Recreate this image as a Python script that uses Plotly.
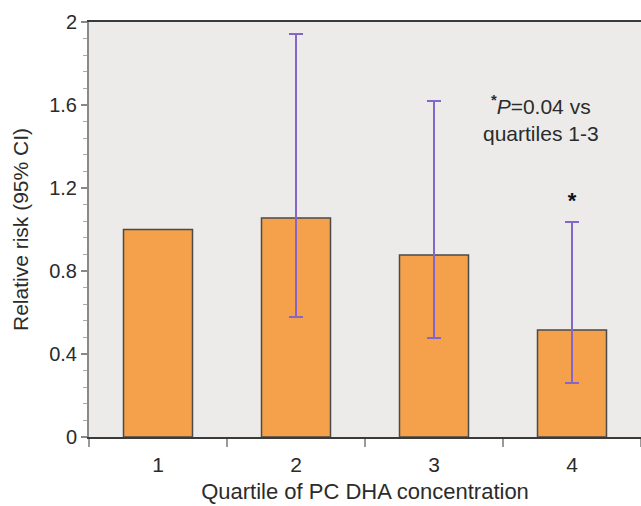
import plotly.graph_objects as go

quartiles = [1, 2, 3, 4]
relative_risk = [1.0, 1.055, 0.877, 0.516]
ci_quartiles = [2, 3, 4]
ci_rr = [1.055, 0.877, 0.516]
ci_upper = [1.942, 1.619, 1.036]
ci_lower = [0.578, 0.477, 0.26]
star_x = [4]
star_y = [1.13]
y_ticks = [0, 0.4, 0.8, 1.2, 1.6, 2]
y_tick_labels = ["0", "0.4", "0.8", "1.2", "1.6", "2"]

font_family = "Liberation Sans, Arial, sans-serif"
text_col = "#2b2b2b"

fig = go.Figure()
fig.add_trace(go.Bar(
    x=quartiles, y=relative_risk, width=0.5,
    marker=dict(color="#f5a14b", line=dict(color="#4a4a4a", width=1.5)),
    showlegend=False, hoverinfo="skip",
))
fig.add_trace(go.Scatter(
    x=ci_quartiles, y=ci_rr, mode="markers",
    marker=dict(size=1, color="rgba(0,0,0,0)"),
    error_y=dict(type="data", symmetric=False,
                 array=[u - v for u, v in zip(ci_upper, ci_rr)],
                 arrayminus=[v - l for l, v in zip(ci_lower, ci_rr)],
                 color="#8266c8", thickness=2, width=7),
    showlegend=False, hoverinfo="skip",
))
fig.add_trace(go.Scatter(
    x=star_x, y=star_y, mode="text", text=["<b>*</b>"],
    textfont=dict(family=font_family, size=22, color="#111"),
    showlegend=False, hoverinfo="skip",
))

fig.add_annotation(
    x=3.775, y=1.535, xref="x", yref="y",
    text="<sup><b>*</b></sup><i>P</i>=0.04 vs<br>quartiles 1-3",
    showarrow=False, align="center",
    font=dict(family=font_family, size=21, color=text_col),
)

fig.update_layout(
    width=641, height=506,
    margin=dict(l=89, r=0, t=22, b=69),
    paper_bgcolor="white", plot_bgcolor="#ecebe9",
    font=dict(family=font_family, size=20, color=text_col),
    bargap=0.5,
)
fig.update_xaxes(
    range=[0.5, 4.5], tickmode="array", tickvals=quartiles,
    ticktext=[str(q) for q in quartiles],
    ticks="outside", ticklen=8, tickcolor="rgba(0,0,0,0)",
    showgrid=False, zeroline=False,
    showline=True, linecolor="#3a3a3a", linewidth=2, mirror=True,
    minor=dict(tickmode="linear", tick0=0.5, dtick=1, ticks="outside",
               ticklen=8, tickcolor="#999", tickwidth=1.5, showgrid=False),
    title=dict(text="Quartile of PC DHA concentration", standoff=8,
               font=dict(size=22)),
    tickfont=dict(size=21),
)
fig.update_yaxes(
    range=[0, 2], tickmode="array", tickvals=y_ticks, ticktext=y_tick_labels,
    ticks="outside", ticklen=6, tickcolor="#888", tickwidth=1.5,
    showgrid=False, zeroline=False,
    showline=True, linecolor="#8a8a8a", linewidth=2,
    minor=dict(tickmode="linear", tick0=0, dtick=0.08, ticks="outside",
               ticklen=4, tickcolor="#aaa", tickwidth=1, showgrid=False),
    title=dict(text="Relative risk (95% CI)", standoff=15, font=dict(size=21)),
    tickfont=dict(size=20),
)

fig.write_html("out.html")
